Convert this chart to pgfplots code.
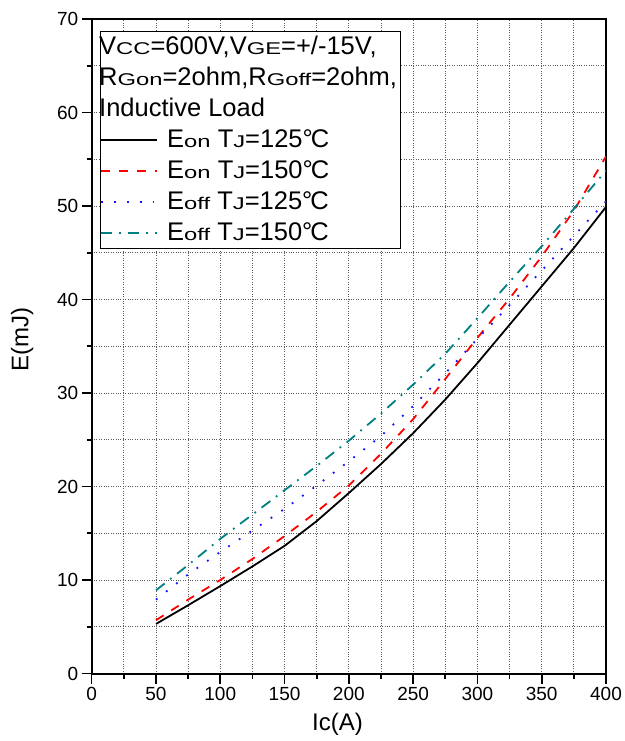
\documentclass[border=0pt]{standalone}
\usepackage{fontspec}
\setmainfont{Liberation Sans}
\newfontfamily\smf[FakeStretch=1.4]{Liberation Sans}
\usepackage{pgfplots}
\pgfplotsset{compat=1.18}
\definecolor{tealc}{RGB}{0,128,128}
\definecolor{bluec}{RGB}{20,20,255}
\newcommand\sm[1]{{\smf\fontsize{17}{17}\selectfont #1}}
\newcommand\lgf{\fontsize{25.5}{25.5}\selectfont}

\pgfplotstableread{
x y
50 5.3
75 7.3
100 9.35
125 11.45
150 13.65
175 16.3
200 19.3
225 22.4
250 25.7
275 29.3
300 33.2
325 37.3
350 41.4
375 45.5
400 49.9
}\eonA
\pgfplotstableread{
x y
50 5.7
75 7.9
100 10.0
125 12.25
150 14.7
175 17.3
200 20.1
225 23.5
250 27.2
275 31.5
300 35.9
325 40.1
350 44.6
375 49.5
400 55.3
}\eonB
\pgfplotstableread{
x y
50 7.9
75 10.6
100 13.0
125 15.3
150 17.6
175 20.1
200 22.7
225 25.4
250 28.6
275 32.1
300 35.8
325 39.4
350 43.1
375 46.8
400 50.5
}\eoffA
\pgfplotstableread{
x y
50 8.9
75 11.6
100 14.4
125 17.0
150 19.6
175 22.2
200 24.9
225 27.8
250 30.9
275 34.2
300 38.0
325 41.9
350 45.7
375 49.7
400 53.8
}\eoffB

\begin{document}
\begin{tikzpicture}
\useasboundingbox (-91.7pt,-67.5pt) rectangle (532.3pt,673.5pt);
\begin{axis}[
  at={(0,0)}, anchor=south west,
  scale only axis, width=514.3pt, height=654.5pt,
  xmin=0, xmax=400, ymin=0, ymax=70,
  xtick={0,50,...,400}, ytick={0,10,...,70},
  minor x tick num=1, minor y tick num=1,
  tick pos=left, tick align=outside,
  major tick length=10pt, minor tick length=5pt,
  every tick/.style={black, line width=1.6pt},
  axis line style={line width=2pt},
  grid=both,
  grid style={dotted, black!65, line width=0.8pt},
  ticklabel style={font=\fontsize{19}{19}\selectfont},
  /pgf/number format/assume math mode=true,
  xlabel={Ic(A)}, ylabel={E(mJ)},
  every axis x label/.style={at={(axis description cs:0.478,-0.0772)}, anchor=center, font=\fontsize{24}{24}\selectfont},
  every axis y label/.style={at={(axis description cs:-0.135,0.5096)}, rotate=90, anchor=center, font=\fontsize{24}{24}\selectfont},
  legend cell align=left,
  legend image code/.code={\draw[#1] (0pt,0pt) -- (56pt,0pt);},
  legend style={at={(0,1)}, anchor=north west, xshift=8.3pt, yshift=-12pt,
    draw=black, line width=0.8pt, fill=white, inner sep=0pt, column sep=6pt,
    font=\lgf,
    nodes={inner xsep=3pt, inner ysep=0pt, text height=23pt, text depth=8pt}},
]
\addlegendimage{empty legend}
\addlegendentry{\hspace*{-68pt}V\sm{CC}=600V,V\sm{GE}=+/-15V,}
\addlegendimage{empty legend}
\addlegendentry{\hspace*{-68pt}R\sm{Gon}=2ohm,R\sm{Goff}=2ohm,}
\addlegendimage{empty legend}
\addlegendentry{\hspace*{-68pt}Inductive Load}
\addplot[black, line width=1.8pt] table {\eonA};
\addlegendentry{E\sm{on} T\sm{J}=125°\kern-0.08em C}
\addplot[red, line width=1.8pt, dash pattern=on 9pt off 9pt] table {\eonB};
\addlegendentry{E\sm{on} T\sm{J}=150°\kern-0.08em C}
\addplot[bluec, line width=1.8pt, dash pattern=on 1.8pt off 11pt] table {\eoffA};
\addlegendentry{E\sm{off} T\sm{J}=125°\kern-0.08em C}
\addplot[tealc, line width=1.8pt, dash pattern=on 11pt off 7pt on 1.8pt off 7pt] table {\eoffB};
\addlegendentry{E\sm{off} T\sm{J}=150°\kern-0.08em C}
\end{axis}
\end{tikzpicture}
\end{document}
